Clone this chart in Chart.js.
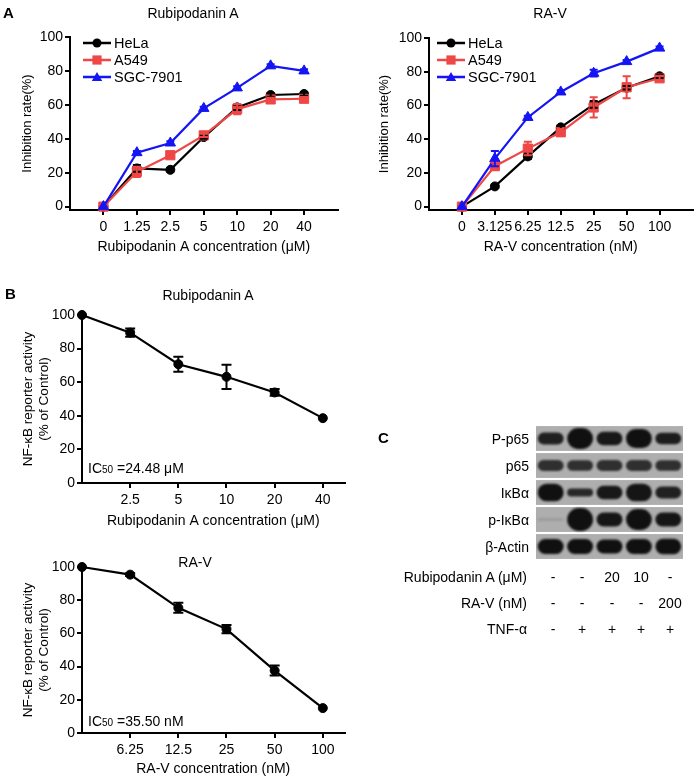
<!DOCTYPE html>
<html>
<head>
<meta charset="utf-8">
<script src="https://cdn.jsdelivr.net/npm/chart.js@4.4.0/dist/chart.umd.min.js"></script>
<style>
body { margin: 0; background: #fff; font-family: 'Liberation Sans', Arial, sans-serif; color: #000; }
#fig { position: relative; width: 700px; height: 780px; overflow: hidden; }
#fig canvas { position: absolute; }
.t { position: absolute; line-height: 1; white-space: nowrap; font-size: 14px; will-change: transform; -webkit-font-smoothing: antialiased; }
.c { transform: translate(-50%, -50%); }
.l { transform: translateY(-50%); }
.r { transform: translate(-100%, -50%); }
.p { font-weight: bold; font-size: 15px; }
.sub { font-size: 10px; }
</style>
</head>
<body>
<div id="fig">
  <canvas id="a1" width="345" height="260" style="left:0;top:0"></canvas>
  <canvas id="a2" width="350" height="260" style="left:350px;top:0"></canvas>
  <canvas id="b1" width="350" height="264" style="left:0;top:270px"></canvas>
  <canvas id="b2" width="350" height="260" style="left:0;top:520px"></canvas>
  <canvas id="blot" width="147" height="135" style="left:536px;top:425px"></canvas>

  <div class="t l p" style="left:3px;top:12px">A</div>
  <div class="t c" style="left:193px;top:13px">Rubipodanin A</div>
  <div class="t c" style="left:550px;top:13px">RA-V</div>

  <div class="t l p" style="left:5px;top:293px">B</div>
  <div class="t c" style="left:208px;top:295px">Rubipodanin A</div>
  <div class="t l" style="left:88px;top:468px">IC<span class="sub">50</span> =24.48 μM</div>
  <div class="t c" style="left:195px;top:562px">RA-V</div>
  <div class="t l" style="left:88px;top:721px">IC<span class="sub">50</span> =35.50 nM</div>

  <div class="t l p" style="left:378px;top:437px">C</div>
  <div id="blotText"></div>
</div>

<script>
// Panel A: inhibition rate (%)
const concA = ['0', '1.25', '2.5', '5', '10', '20', '40'];
const concV = ['0', '3.125', '6.25', '12.5', '25', '50', '100'];
const helaA = [0, 22.5, 21.7, 41, 58.5, 65.8, 66.4];
const helaAErr = [0, 2, 1, 1, 1.5, 1, 1];
const a549A = [0, 20.5, 30.3, 42, 57.5, 63.2, 63.6];
const a549AErr = [0, 3, 1, 1, 3, 1, 1];
const sgcA = [0, 31.8, 37.5, 57.9, 70, 83, 80];
const sgcAErr = [0, 1, 1, 1, 1, 1, 1];
const helaV = [0, 12, 29.8, 47, 60.6, 70.5, 77.3];
const helaVErr = [0, 1, 1.5, 1, 2, 1, 1];
const a549V = [0, 24, 34.4, 44.1, 58.8, 70.8, 76.1];
const a549VErr = [0, 2, 4, 2, 6, 6.5, 1.5];
const sgcV = [0, 28.5, 52.9, 68, 79.1, 86, 94];
const sgcVErr = [0, 4.5, 1, 1, 2, 1, 1];

// Panel B: NF-kB reporter activity (% of control), index 0 = control
const doseB1 = ['', '2.5', '5', '10', '20', '40'];
const nfkbA = [100, 89.5, 70.7, 63.2, 53.9, 38.6];
const nfkbAErr = [0, 2.5, 4.5, 7.2, 2, 0];
const doseB2 = ['', '6.25', '12.5', '25', '50', '100'];
const nfkbV = [100, 95.4, 75.4, 62.6, 37.6, 15];
const nfkbVErr = [0, 0.8, 3, 2.5, 3, 0];

const yTicks = [0, 20, 40, 60, 80, 100];

// Panel C: western blot, band density and spread per lane
const lanes = ['1', '2', '3', '4', '5'];
const blotRows = ['P-p65', 'p65', 'IκBα', 'p-IκBα', 'β-Actin'];
const bandDensity = [
  [0.9, 1, 0.95, 1, 0.92],
  [0.8, 0.8, 0.8, 0.8, 0.8],
  [1, 0.85, 0.95, 0.97, 0.9],
  [0.15, 1, 0.97, 1, 0.97],
  [1, 1, 1, 1, 1]
];
const bandSpread = [
  [0.45, 0.77, 0.5, 0.7, 0.42],
  [0.4, 0.38, 0.4, 0.4, 0.38],
  [0.65, 0.3, 0.5, 0.65, 0.45],
  [0.08, 0.85, 0.52, 0.77, 0.52],
  [0.55, 0.55, 0.52, 0.55, 0.57]
];
const treatRows = ['Rubipodanin A (μM)', 'RA-V (nM)', 'TNF-α'];
const treatVals = [
  ['-', '-', '20', '10', '-'],
  ['-', '-', '-', '-', '200'],
  ['-', '+', '+', '+', '+']
];

Chart.defaults.font.family = "'Liberation Sans', Arial, sans-serif";
Chart.defaults.font.size = 14;
Chart.defaults.color = '#000';

const RED = '#ef4646';
const BLUE = '#1414f5';

function drawMarker(ctx, style, x, y, r, color) {
  ctx.fillStyle = color;
  ctx.beginPath();
  if (style === 'rect') {
    const s = r * Math.SQRT1_2;
    ctx.rect(x - s, y - s, 2 * s, 2 * s);
  } else if (style === 'triangle') {
    for (let k = 0; k < 3; k++) {
      const a = -Math.PI / 2 + k * 2 * Math.PI / 3;
      const px = x + Math.cos(a) * r, py = y + Math.sin(a) * r + r * 0.15;
      k === 0 ? ctx.moveTo(px, py) : ctx.lineTo(px, py);
    }
    ctx.closePath();
  } else {
    ctx.arc(x, y, r, 0, Math.PI * 2);
  }
  ctx.fill();
}

// vertical error bars with caps, from each dataset's errors array
const errorBars = {
  id: 'errorBars',
  afterDatasetsDraw(chart, args, opts) {
    const { ctx, scales: { x, y } } = chart;
    const cap = opts.cap || 4;
    chart.data.datasets.forEach(ds => {
      if (!ds.errors) return;
      ctx.save();
      ctx.strokeStyle = ds.borderColor;
      ctx.lineWidth = 2;
      ds.data.forEach((p, i) => {
        const e = ds.errors[i];
        if (!e) return;
        const px = x.getPixelForValue(p.x);
        const top = y.getPixelForValue(p.y + e);
        const bot = y.getPixelForValue(p.y - e);
        ctx.beginPath();
        ctx.moveTo(px, top); ctx.lineTo(px, bot);
        ctx.moveTo(px - cap, top); ctx.lineTo(px + cap, top);
        ctx.moveTo(px - cap, bot); ctx.lineTo(px + cap, bot);
        ctx.stroke();
      });
      ctx.restore();
    });
  }
};

// GraphPad style legend: line + marker + label, inside the plot
const lineLegend = {
  id: 'lineLegend',
  afterDraw(chart, args, opts) {
    if (opts.x === undefined) return;
    const ctx = chart.ctx;
    chart.data.datasets.forEach((ds, i) => {
      const y = opts.y + i * opts.gap;
      ctx.save();
      ctx.strokeStyle = ds.borderColor;
      ctx.lineWidth = 2.5;
      ctx.beginPath();
      ctx.moveTo(opts.x, y);
      ctx.lineTo(opts.x + 28, y);
      ctx.stroke();
      drawMarker(ctx, ds.pointStyle, opts.x + 14, y, ds.pointRadius, ds.backgroundColor);
      ctx.fillStyle = '#000';
      ctx.font = "14.5px 'Liberation Sans', Arial, sans-serif";
      ctx.textBaseline = 'middle';
      ctx.fillText(ds.label, opts.x + 31, y + 1);
      ctx.restore();
    });
  }
};

function series(label, values, errs, color, style, radius, order) {
  return {
    label, order,
    data: values.map((v, i) => ({ x: i, y: v })),
    errors: errs,
    borderColor: color, backgroundColor: color,
    pointStyle: style, pointRadius: radius, pointBorderWidth: 1,
    pointBorderColor: color, borderWidth: 2.2, tension: 0, clip: false
  };
}

const axisLine = {
  grid: { display: true, drawOnChartArea: false, drawTicks: true, tickLength: 5, tickWidth: 2, lineWidth: 2, color: '#000' },
  border: { display: true, color: '#000', width: 2 }
};

function xAxis(labels, min, max, first, title, height, titleBottom) {
  return {
    type: 'linear', min, max,
    afterBuildTicks: s => { s.ticks = labels.map((_, i) => ({ value: i })).slice(first); },
    afterFit: s => { s.height = height; },
    ticks: { callback: v => labels[v], autoSkip: false, maxRotation: 0, padding: 4, font: { size: 14 } },
    ...axisLine,
    title: { display: true, text: title, font: { size: 14 }, padding: { top: 4, bottom: titleBottom } }
  };
}

function yAxis(min, title, width, size) {
  return {
    type: 'linear', min, max: 100,
    afterBuildTicks: s => { s.ticks = yTicks.map(v => ({ value: v })); },
    afterFit: s => { s.width = width; },
    ticks: { padding: 2, font: { size: 14 } },
    ...axisLine,
    title: { display: true, text: title, font: { size }, padding: { top: 4, bottom: 4 } }
  };
}

function baseOptions(padding, legendPos, cap, scales) {
  return {
    responsive: false, animation: false,
    layout: { padding },
    plugins: {
      legend: { display: false }, tooltip: { enabled: false },
      lineLegend: legendPos, errorBars: { cap }
    },
    scales
  };
}

new Chart(document.getElementById('a1'), {
  type: 'line',
  data: { datasets: [
    series('HeLa', helaA, helaAErr, '#000', 'circle', 4.5, 3),
    series('A549', a549A, a549AErr, RED, 'rect', 6.5, 2),
    series('SGC-7901', sgcA, sgcAErr, BLUE, 'triangle', 6, 1)
  ] },
  options: baseOptions({ left: 16, top: 37, right: 7, bottom: 0 }, { x: 83, y: 43, gap: 17 }, 4, {
    x: xAxis(concA, -1, 7, 0, 'Rubipodanin A concentration (μM)', 50, 4),
    y: yAxis(-2, 'Inhibition rate(%)', 54, 13)
  }),
  plugins: [errorBars, lineLegend]
});

new Chart(document.getElementById('a2'), {
  type: 'line',
  data: { datasets: [
    series('HeLa', helaV, helaVErr, '#000', 'circle', 4.5, 3),
    series('A549', a549V, a549VErr, RED, 'rect', 6.5, 2),
    series('SGC-7901', sgcV, sgcVErr, BLUE, 'triangle', 6, 1)
  ] },
  options: baseOptions({ left: 23, top: 38, right: 4, bottom: 0 }, { x: 87, y: 43, gap: 17 }, 4, {
    x: xAxis(concV, -1, 7, 0, 'RA-V concentration (nM)', 50, 4),
    y: yAxis(-2, 'Inhibition rate(%)', 56, 13)
  }),
  plugins: [errorBars, lineLegend]
});

new Chart(document.getElementById('b1'), {
  type: 'line',
  data: { datasets: [series('NF-κB', nfkbA, nfkbAErr, '#000', 'circle', 4.5, 1)] },
  options: baseOptions({ left: 16, top: 45, right: 3, bottom: 0 }, {}, 5, {
    x: xAxis(doseB1, 0, 5.45, 1, 'Rubipodanin A concentration (μM)', 51, 4),
    y: yAxis(0, ['NF-κB reporter activity', '(% of Control)'], 66, 13.5)
  }),
  plugins: [errorBars, lineLegend]
});

new Chart(document.getElementById('b2'), {
  type: 'line',
  data: { datasets: [series('NF-κB', nfkbV, nfkbVErr, '#000', 'circle', 4.5, 1)] },
  options: baseOptions({ left: 16, top: 47, right: 3, bottom: 0 }, {}, 5, {
    x: xAxis(doseB2, 0, 5.45, 1, 'RA-V concentration (nM)', 47, 2),
    y: yAxis(0, ['NF-κB reporter activity', '(% of Control)'], 66, 13.5)
  }),
  plugins: [errorBars, lineLegend]
});

// blot membrane strips drawn behind the bands; bands slightly blurred
const blotStrips = {
  id: 'blotStrips',
  beforeDatasetsDraw(chart) {
    const { ctx, chartArea: a, scales: { y } } = chart;
    ctx.save();
    ctx.fillStyle = '#aeaeae';
    blotRows.forEach((_, r) => {
      const t = y.getPixelForValue(r + 0.04), b = y.getPixelForValue(r + 0.96);
      ctx.fillRect(a.left, t, a.right - a.left, b - t);
    });
    ctx.restore();
    ctx.save();
    ctx.filter = 'blur(1.2px)';
  },
  afterDatasetsDraw(chart) { chart.ctx.restore(); }
};

function shade(d) {
  const g = Math.round(172 - d * 156);
  return `rgb(${g},${g},${g})`;
}

const blot = new Chart(document.getElementById('blot'), {
  type: 'bar',
  data: {
    labels: lanes,
    datasets: blotRows.map((name, r) => ({
      label: name,
      data: bandSpread[r].map(t => [r + 0.5 - t / 2, r + 0.5 + t / 2]),
      backgroundColor: bandDensity[r].map(shade),
      barPercentage: 0.88, categoryPercentage: 1, grouped: false,
      borderRadius: 30, borderSkipped: false
    }))
  },
  options: {
    responsive: false, animation: false,
    layout: { padding: 0 },
    plugins: { legend: { display: false }, tooltip: { enabled: false } },
    scales: { x: { display: false }, y: { display: false, min: 0, max: 5, reverse: true } }
  },
  plugins: [blotStrips]
});

// row labels and treatment table, placed from the blot chart's scales
const box = document.getElementById('blotText');
const blotLeft = 536, blotTop = 425;
function addText(txt, x, y, cls) {
  const el = document.createElement('div');
  el.className = 't ' + cls;
  el.style.left = x + 'px';
  el.style.top = y + 'px';
  el.textContent = txt;
  box.appendChild(el);
}
blotRows.forEach((name, r) => {
  addText(name, 529, blotTop + blot.scales.y.getPixelForValue(r + 0.5), 'r');
});
treatRows.forEach((name, r) => {
  const y = 577 + r * 26;
  addText(name, 527, y, 'r');
  treatVals[r].forEach((v, i) => {
    addText(v, blotLeft + blot.scales.x.getPixelForValue(i) + 2, y, 'c');
  });
});
</script>
</body>
</html>
